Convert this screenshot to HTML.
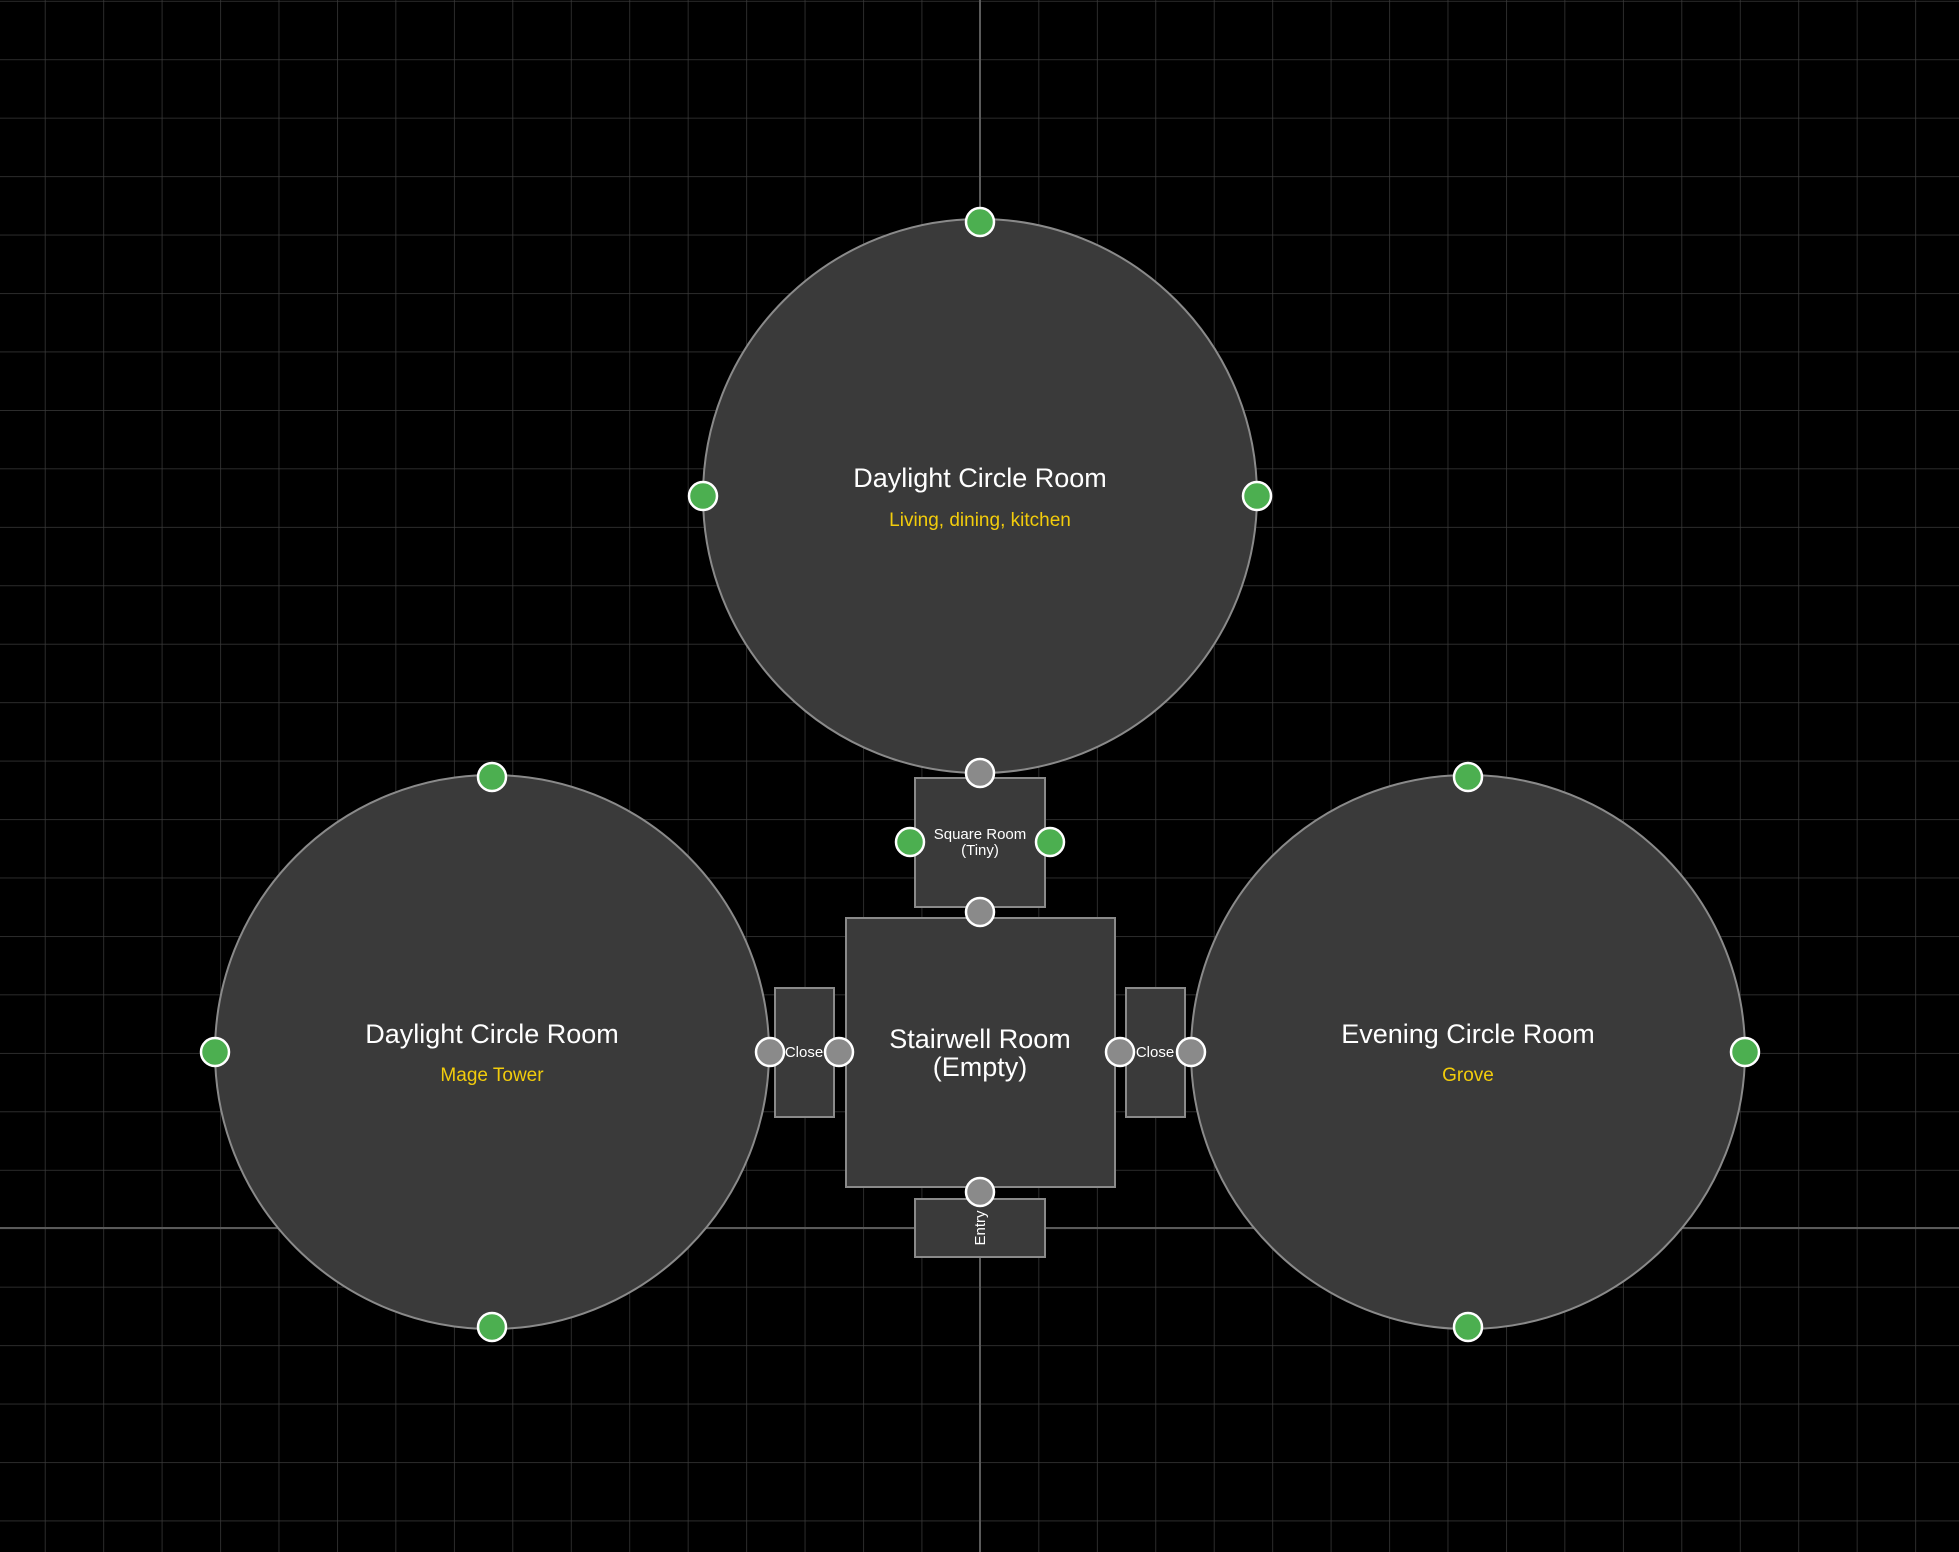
<!DOCTYPE html>
<html><head><style>
html,body{margin:0;padding:0;background:#000;}
svg{display:block;}
text{font-family:"Liberation Sans",Arial,sans-serif;}
</style></head><body>
<svg width="1959" height="1552" viewBox="0 0 1959 1552" xmlns="http://www.w3.org/2000/svg">
<defs>
<pattern id="g" x="44.8" y="59.3" width="58.45" height="58.45" patternUnits="userSpaceOnUse">
<path d="M0 0H58.45M0 0V58.45" stroke="#3a3a3a" stroke-width="1.5" fill="none"/>
</pattern>
</defs>
<rect width="1959" height="1552" fill="#000"/>
<rect width="1959" height="1552" fill="url(#g)"/>
<line x1="980" y1="0" x2="980" y2="1552" stroke="#5a5a5a" stroke-width="2"/>
<line x1="0" y1="1228" x2="1959" y2="1228" stroke="#5a5a5a" stroke-width="2"/>
<g fill="#3a3a3a" stroke="#8a8a8a" stroke-width="2">
<circle cx="980" cy="496" r="277"/>
<circle cx="492" cy="1052" r="277"/>
<circle cx="1468" cy="1052" r="277"/>
<rect x="915" y="778" width="130" height="129"/>
<rect x="846" y="918" width="269" height="269"/>
<rect x="775" y="988" width="59" height="129"/>
<rect x="1126" y="988" width="59" height="129"/>
<rect x="915" y="1199" width="130" height="58"/>
</g>
<g fill="#fff" text-anchor="middle">
<text x="980" y="487" font-size="27">Daylight Circle Room</text>
<text x="980" y="526" font-size="19" fill="#f2cc0c">Living, dining, kitchen</text>
<text x="492" y="1043" font-size="27">Daylight Circle Room</text>
<text x="492" y="1081" font-size="19" fill="#f2cc0c">Mage Tower</text>
<text x="1468" y="1043" font-size="27">Evening Circle Room</text>
<text x="1468" y="1081" font-size="19" fill="#f2cc0c">Grove</text>
<text x="980" y="1048" font-size="27">Stairwell Room</text>
<text x="980" y="1076" font-size="27">(Empty)</text>
<text x="980" y="839" font-size="15">Square Room</text>
<text x="980" y="855" font-size="15">(Tiny)</text>
<text x="804" y="1057" font-size="15">Close</text>
<text x="1155" y="1057" font-size="15">Close</text>
<text x="0" y="0" font-size="15" transform="translate(985,1228) rotate(-90)">Entry</text>
</g>
<g stroke="#fff" stroke-width="2.5">
<g fill="#4caf50">
<circle cx="980" cy="222" r="14"/>
<circle cx="703" cy="496" r="14"/>
<circle cx="1257" cy="496" r="14"/>
<circle cx="492" cy="777" r="14"/>
<circle cx="215" cy="1052" r="14"/>
<circle cx="492" cy="1327" r="14"/>
<circle cx="1468" cy="777" r="14"/>
<circle cx="1745" cy="1052" r="14"/>
<circle cx="1468" cy="1327" r="14"/>
<circle cx="910" cy="842" r="14"/>
<circle cx="1050" cy="842" r="14"/>
</g>
<g fill="#8a8a8a">
<circle cx="980" cy="773" r="14"/>
<circle cx="980" cy="912" r="14"/>
<circle cx="770" cy="1052" r="14"/>
<circle cx="839" cy="1052" r="14"/>
<circle cx="1120" cy="1052" r="14"/>
<circle cx="1191" cy="1052" r="14"/>
<circle cx="980" cy="1192" r="14"/>
</g>
</g>
</svg>
</body></html>
